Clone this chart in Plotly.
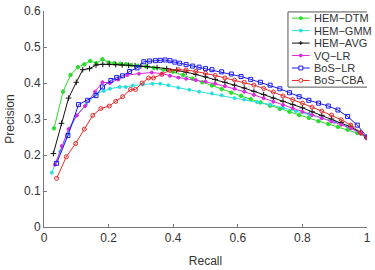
import plotly.graph_objects as go

# ---- data ----
dtm_r = [0.031, 0.059, 0.082, 0.105, 0.125, 0.143, 0.162, 0.181, 0.200, 0.218, 0.236, 0.254, 0.270, 0.29, 0.316, 0.34, 0.37, 0.40, 0.43, 0.46, 0.49, 0.52, 0.55, 0.58, 0.61, 0.64, 0.67, 0.70, 0.73, 0.76, 0.79, 0.82, 0.85, 0.88, 0.91, 0.94, 0.97, 1.0]
dtm_p = [0.274, 0.376, 0.422, 0.444, 0.452, 0.461, 0.455, 0.466, 0.457, 0.455, 0.453, 0.452, 0.450, 0.448, 0.446, 0.442, 0.437, 0.431, 0.422, 0.412, 0.402, 0.393, 0.383, 0.373, 0.364, 0.355, 0.346, 0.337, 0.328, 0.320, 0.311, 0.303, 0.294, 0.286, 0.278, 0.270, 0.261, 0.248]

gmm_r = [0.024, 0.05, 0.075, 0.10, 0.13, 0.163, 0.185, 0.204, 0.234, 0.253, 0.275, 0.306, 0.336, 0.36, 0.385, 0.416, 0.45, 0.48, 0.52, 0.55, 0.59, 0.62, 0.66, 0.70, 0.74, 0.78, 0.82, 0.86, 0.90, 0.94, 0.97, 1.0]
gmm_p = [0.151, 0.21, 0.26, 0.31, 0.34, 0.371, 0.378, 0.384, 0.389, 0.389, 0.393, 0.396, 0.398, 0.398, 0.394, 0.387, 0.381, 0.376, 0.371, 0.366, 0.358, 0.354, 0.347, 0.340, 0.331, 0.322, 0.314, 0.303, 0.292, 0.279, 0.267, 0.248]

avg_r = [0.029, 0.054, 0.076, 0.100, 0.120, 0.141, 0.161, 0.182, 0.202, 0.222, 0.242, 0.262, 0.282, 0.30, 0.32, 0.35, 0.38, 0.41, 0.44, 0.47, 0.50, 0.53, 0.56, 0.59, 0.62, 0.65, 0.68, 0.71, 0.74, 0.77, 0.80, 0.83, 0.86, 0.89, 0.92, 0.95, 0.98, 1.0]
avg_p = [0.204, 0.288, 0.358, 0.402, 0.437, 0.440, 0.450, 0.452, 0.452, 0.451, 0.450, 0.449, 0.448, 0.447, 0.446, 0.443, 0.440, 0.436, 0.430, 0.424, 0.417, 0.410, 0.402, 0.394, 0.386, 0.377, 0.368, 0.358, 0.349, 0.340, 0.331, 0.320, 0.310, 0.300, 0.290, 0.278, 0.262, 0.248]

vq_r = [0.034, 0.055, 0.076, 0.102, 0.127, 0.158, 0.181, 0.204, 0.230, 0.258, 0.294, 0.334, 0.365, 0.39, 0.416, 0.44, 0.47, 0.50, 0.53, 0.56, 0.59, 0.62, 0.65, 0.68, 0.71, 0.74, 0.77, 0.80, 0.83, 0.86, 0.89, 0.92, 0.95, 0.98, 1.0]
vq_p = [0.173, 0.225, 0.272, 0.310, 0.336, 0.376, 0.402, 0.400, 0.410, 0.422, 0.426, 0.429, 0.426, 0.420, 0.415, 0.412, 0.408, 0.404, 0.398, 0.391, 0.384, 0.376, 0.367, 0.358, 0.348, 0.339, 0.330, 0.320, 0.311, 0.302, 0.293, 0.284, 0.274, 0.260, 0.248]

bos_r = [0.039, 0.074, 0.107, 0.135, 0.161, 0.181, 0.207, 0.225, 0.243, 0.265, 0.288, 0.309, 0.327, 0.345, 0.36, 0.375, 0.39, 0.405, 0.42, 0.44, 0.46, 0.48, 0.50, 0.52, 0.55, 0.58, 0.61, 0.64, 0.67, 0.70, 0.73, 0.76, 0.79, 0.82, 0.85, 0.88, 0.91, 0.94, 0.97, 1.0]
bos_p = [0.177, 0.254, 0.340, 0.352, 0.365, 0.389, 0.407, 0.415, 0.420, 0.432, 0.442, 0.459, 0.461, 0.462, 0.463, 0.464, 0.462, 0.458, 0.455, 0.451, 0.447, 0.444, 0.440, 0.437, 0.431, 0.425, 0.418, 0.410, 0.402, 0.394, 0.384, 0.373, 0.362, 0.352, 0.344, 0.336, 0.325, 0.307, 0.283, 0.250]

cba_r = [0.039, 0.069, 0.098, 0.125, 0.151, 0.176, 0.202, 0.222, 0.243, 0.268, 0.283, 0.304, 0.324, 0.339, 0.365, 0.39, 0.416, 0.44, 0.47, 0.50, 0.53, 0.56, 0.59, 0.62, 0.65, 0.68, 0.71, 0.74, 0.77, 0.80, 0.83, 0.86, 0.89, 0.92, 0.95, 0.98, 1.0]
cba_p = [0.135, 0.195, 0.232, 0.272, 0.310, 0.329, 0.336, 0.349, 0.362, 0.382, 0.382, 0.400, 0.414, 0.414, 0.424, 0.435, 0.437, 0.436, 0.432, 0.427, 0.421, 0.414, 0.408, 0.402, 0.394, 0.385, 0.375, 0.364, 0.354, 0.344, 0.333, 0.322, 0.311, 0.298, 0.283, 0.262, 0.248]

names = ["HEM\u2212DTM", "HEM\u2212GMM", "HEM\u2212AVG", "VQ\u2212LR", "BoS\u2212LR", "BoS\u2212CBA"]
recalls = [dtm_r, gmm_r, avg_r, vq_r, bos_r, cba_r]
precisions = [dtm_p, gmm_p, avg_p, vq_p, bos_p, cba_p]

# ---- styles ----
colors = ["#2add2a", "#2adddd", "#111111", "#dd2add", "#1a1aee", "#e62828"]
symbols = ["circle", "circle", "cross-thin", "circle", "square-open", "circle-open"]
sizes = [3.5, 3, 4, 3, 4, 4]

FONT = "Liberation Sans, Arial, sans-serif"
# plot-area pixel geometry (375x270 canvas)
L, R, T, B = 44, 371, 10, 237

fig = go.Figure()
for name, r, p, col, sym, sz in zip(names, recalls, precisions, colors, symbols, sizes):
    fig.add_trace(go.Scatter(
        x=r, y=p, name=name, mode="lines+markers", showlegend=False,
        line=dict(color=col, width=1),
        marker=dict(symbol=sym, size=sz, color=col, line=dict(color=col, width=1)),
    ))

# ---- compact MATLAB-style legend drawn with shapes on an overlay pixel axis ----
box_x0, box_x1, box_y0, box_y1 = 291, 373, 11, 90
row0, row_gap = 17.5, 13.1
line_x0, line_x1, text_x = 295, 313, 315
mx = (line_x0 + line_x1) / 2
shp = dict(xref="x2", yref="y2", layer="above")
fig.add_shape(type="rect", x0=box_x0, x1=box_x1, y0=box_y0, y1=box_y1,
              line=dict(color="#555555", width=1), fillcolor="white", **shp)
for i, (name, col, sym) in enumerate(zip(names, colors, symbols)):
    yy = row0 + i * row_gap
    fig.add_shape(type="line", x0=line_x0, x1=line_x1, y0=yy, y1=yy, line=dict(color=col, width=1), **shp)
    if sym == "cross-thin":
        fig.add_shape(type="line", x0=mx - 2, x1=mx + 2, y0=yy, y1=yy, line=dict(color=col, width=1), **shp)
        fig.add_shape(type="line", x0=mx, x1=mx, y0=yy - 2, y1=yy + 2, line=dict(color=col, width=1), **shp)
    elif sym == "square-open":
        fig.add_shape(type="rect", x0=mx - 2, x1=mx + 2, y0=yy - 2, y1=yy + 2,
                      line=dict(color=col, width=1), fillcolor="white", **shp)
    elif sym == "circle-open":
        fig.add_shape(type="circle", x0=mx - 2, x1=mx + 2, y0=yy - 2, y1=yy + 2,
                      line=dict(color=col, width=1), fillcolor="white", **shp)
    else:
        fig.add_shape(type="circle", x0=mx - 1.5, x1=mx + 1.5, y0=yy - 1.5, y1=yy + 1.5,
                      line=dict(color=col, width=1), fillcolor=col, **shp)
    fig.add_annotation(x=text_x, y=yy, xref="x2", yref="y2", text=name, showarrow=False,
                       xanchor="left", yanchor="middle",
                       font=dict(family=FONT, size=11, color="#333333"))

# dummy trace so the overlay pixel axis exists
fig.add_trace(go.Scatter(x=[L], y=[B], xaxis="x2", yaxis="y2", mode="markers",
                         marker=dict(opacity=0), showlegend=False, hoverinfo="skip"))

axis_common = dict(
    showgrid=False, zeroline=False, showline=True, linecolor="#777777", linewidth=1,
    ticks="inside", ticklen=3, tickcolor="#777777",
    tickfont=dict(family=FONT, size=12, color="#333333"),
)
fig.update_layout(
    width=375, height=270,
    margin=dict(l=L, r=375 - R, t=T, b=270 - B),
    paper_bgcolor="white", plot_bgcolor="white",
    xaxis=dict(range=[0, 1], tickvals=[0, 0.2, 0.4, 0.6, 0.8, 1], ticktext=["0", "0.2", "0.4", "0.6", "0.8", "1"],
               title=dict(text="Recall", font=dict(family=FONT, size=12, color="#333333"), standoff=12),
               **axis_common),
    yaxis=dict(range=[0, 0.6], tickvals=[0, 0.1, 0.2, 0.3, 0.4, 0.5, 0.6], ticktext=["0", "0.1", "0.2", "0.3", "0.4", "0.5", "0.6"],
               title=dict(text="Precision", font=dict(family=FONT, size=12, color="#333333"), standoff=6),
               **axis_common),
    xaxis2=dict(overlaying="x", range=[L, R], visible=False, fixedrange=True),
    yaxis2=dict(overlaying="y", range=[B, T], visible=False, fixedrange=True),
    showlegend=False,
)

fig.write_html("out.html")
